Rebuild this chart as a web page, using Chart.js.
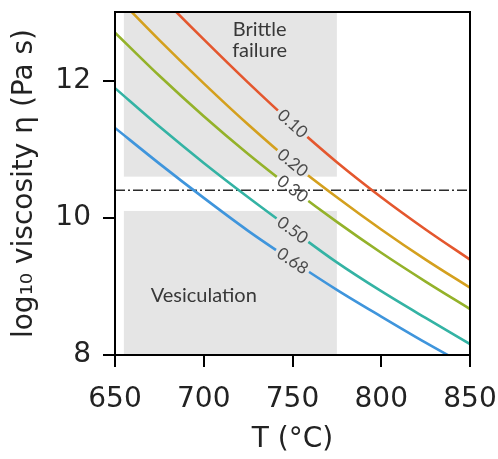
<!DOCTYPE html>
<html>
<head>
<meta charset="utf-8">
<script src="https://cdn.jsdelivr.net/npm/chart.js@4.4.1/dist/chart.umd.min.js"></script>
<style>
html,body{margin:0;padding:0;background:#fff;}
canvas{display:block;}
</style>
</head>
<body>
<canvas id="c" width="498" height="459"></canvas>
<script>
// ---- data ----
const temps = [650, 675, 700, 725, 750, 775, 800, 825, 850];
const phi010 = [13.92, 13.25, 12.60, 11.97, 11.37, 10.81, 10.30, 9.83, 9.39];
const phi020 = [13.25, 12.59, 11.96, 11.36, 10.80, 10.30, 9.83, 9.39, 8.98];
const phi030 = [12.70, 12.07, 11.48, 10.93, 10.42, 9.94, 9.49, 9.07, 8.67];
const phi050 = [11.89, 11.33, 10.80, 10.30, 9.82, 9.35, 8.93, 8.54, 8.16];
const phi068 = [11.31, 10.79, 10.29, 9.81, 9.37, 8.95, 8.56, 8.18, 7.82];
const seriesLabels = ['0.10', '0.20', '0.30', '0.50', '0.68'];
const refLevel = 10.4;              // dash-dot line
const brittleT = [655, 775];        // shaded "Brittle failure" T range
const brittleY = [10.6, 13];
const vesicT = [655, 775];          // shaded "Vesiculation" T range
const vesicY = [8, 10.1];
const xTicks = [650, 700, 750, 800, 850];
const yTicks = [8, 10, 12];
const labelT = 750;                 // where inline labels sit

const colors = ['#e4572e', '#d4a01e', '#94b22a', '#34b3a4', '#3f95dc'];
const allSeries = [phi010, phi020, phi030, phi050, phi068];

const pts = arr => temps.map((t, i) => ({x: t, y: arr[i]}));

const datasets = allSeries.map((arr, i) => ({
  label: seriesLabels[i],
  data: pts(arr),
  borderColor: colors[i],
  borderWidth: 2.6,
  pointRadius: 0,
  cubicInterpolationMode: 'monotone',
  fill: false
}));
datasets.push({
  label: 'ref',
  data: [{x: 650, y: refLevel}, {x: 850, y: refLevel}],
  borderColor: '#2b2b2b',
  borderWidth: 1.5,
  borderDash: [10, 3, 2, 3],
  pointRadius: 0,
  fill: false
});

const FONT = 'DejaVu Sans';
const LFONT = 'Lato';

function labelGeom(chart, i) {
  const xs = chart.scales.x, ys = chart.scales.y;
  const arr = allSeries[i];
  const k = temps.indexOf(labelT);
  const x = xs.getPixelForValue(labelT), y = ys.getPixelForValue(arr[k]);
  const x0 = xs.getPixelForValue(temps[k - 1]), y0 = ys.getPixelForValue(arr[k - 1]);
  const x1 = xs.getPixelForValue(temps[k + 1]), y1 = ys.getPixelForValue(arr[k + 1]);
  const ang = Math.atan2(y1 - y0, x1 - x0);
  const ctx = chart.ctx;
  ctx.save();
  ctx.font = '17px ' + LFONT;
  const w = ctx.measureText(seriesLabels[i]).width;
  ctx.restore();
  return {x, y, ang, w};
}

const plugin = {
  id: 'custom',
  beforeDatasetsDraw(chart) {
    const {ctx} = chart;
    const xs = chart.scales.x, ys = chart.scales.y;
    ctx.save();
    ctx.fillStyle = '#e5e5e5';
    const bx0 = xs.getPixelForValue(brittleT[0]), bx1 = xs.getPixelForValue(brittleT[1]);
    const by0 = ys.getPixelForValue(brittleY[1]), by1 = ys.getPixelForValue(brittleY[0]);
    ctx.fillRect(bx0, by0, bx1 - bx0, by1 - by0);
    const vx0 = xs.getPixelForValue(vesicT[0]), vx1 = xs.getPixelForValue(vesicT[1]);
    const vy0 = ys.getPixelForValue(vesicY[1]), vy1 = ys.getPixelForValue(vesicY[0]);
    ctx.fillRect(vx0, vy0, vx1 - vx0, vy1 - vy0);
    ctx.fillStyle = '#383838';
    ctx.font = '20px ' + LFONT;
    ctx.textAlign = 'center';
    ctx.textBaseline = 'middle';
    const bcx = xs.getPixelForValue(731.5);
    ctx.fillText('Brittle', bcx, 30);
    ctx.fillText('failure', bcx, 51);
    ctx.fillText('Vesiculation', xs.getPixelForValue(700), ys.getPixelForValue(8.87));
    ctx.restore();
  },
  beforeDatasetDraw(chart, args) {
    const i = args.index;
    if (i >= seriesLabels.length) return;
    const g = labelGeom(chart, i);
    const ctx = chart.ctx;
    ctx.save();
    ctx.beginPath();
    ctx.rect(0, 0, chart.width, chart.height);
    const hw = g.w / 2 + 3, hh = 9;
    const c = Math.cos(g.ang), s = Math.sin(g.ang);
    const corners = [[-hw, -hh], [-hw, hh], [hw, hh], [hw, -hh]].map(([a, b]) => [g.x + a * c - b * s, g.y + a * s + b * c]);
    ctx.moveTo(corners[0][0], corners[0][1]);
    for (let j = 1; j < 4; j++) ctx.lineTo(corners[j][0], corners[j][1]);
    ctx.closePath();
    ctx.clip('evenodd');
  },
  afterDatasetDraw(chart, args) {
    if (args.index >= seriesLabels.length) return;
    chart.ctx.restore();
  },
  afterDatasetsDraw(chart) {
    const ctx = chart.ctx;
    for (let i = 0; i < seriesLabels.length; i++) {
      const g = labelGeom(chart, i);
      ctx.save();
      ctx.translate(g.x, g.y);
      ctx.rotate(g.ang);
      ctx.fillStyle = '#4a4a4a';
      ctx.font = '17px ' + LFONT;
      ctx.textAlign = 'center';
      ctx.textBaseline = 'middle';
      ctx.fillText(seriesLabels[i], 0, 0);
      ctx.restore();
    }
  },
  afterDraw(chart) {
    const {ctx, chartArea: a} = chart;
    ctx.save();
    ctx.strokeStyle = '#000';
    ctx.lineWidth = 2;
    ctx.strokeRect(a.left, a.top, a.right - a.left, a.bottom - a.top);
    ctx.restore();
  }
};

new Chart(document.getElementById('c'), {
  type: 'line',
  data: {datasets},
  plugins: [plugin],
  options: {
    responsive: false,
    animation: false,
    devicePixelRatio: 1,
    layout: {padding: {left: 0, right: 28, top: 12, bottom: 0}},
    plugins: {legend: {display: false}, tooltip: {enabled: false}},
    scales: {
      x: {
        type: 'linear', min: 650, max: 850,
        afterBuildTicks: s => { s.ticks = xTicks.map(v => ({value: v})); },
        afterFit: s => { s.height = 104; s.paddingLeft = 0; s.paddingRight = 0; },
        border: {display: false},
        grid: {drawOnChartArea: false, color: '#000', lineWidth: 2, tickLength: 12},
        ticks: {color: '#222', font: {family: FONT, size: 28}, padding: 16, maxRotation: 0},
        title: {display: true, text: 'T (°C)', color: '#222', font: {family: FONT, size: 28}, padding: {top: 0, bottom: 2}}
      },
      y: {
        type: 'linear', min: 8, max: 13,
        afterBuildTicks: s => { s.ticks = yTicks.map(v => ({value: v})); },
        afterFit: s => { s.width = 115; s.paddingTop = 0; s.paddingBottom = 0; },
        border: {display: false},
        grid: {drawOnChartArea: false, color: '#000', lineWidth: 2, tickLength: 12},
        ticks: {color: '#222', font: {family: FONT, size: 28}, padding: 12},
        title: {display: true, text: 'log₁₀ viscosity η (Pa s)', color: '#222', font: {family: FONT, size: 28}, padding: {top: 8, bottom: 0}}
      }
    }
  }
});
</script>
</body>
</html>
